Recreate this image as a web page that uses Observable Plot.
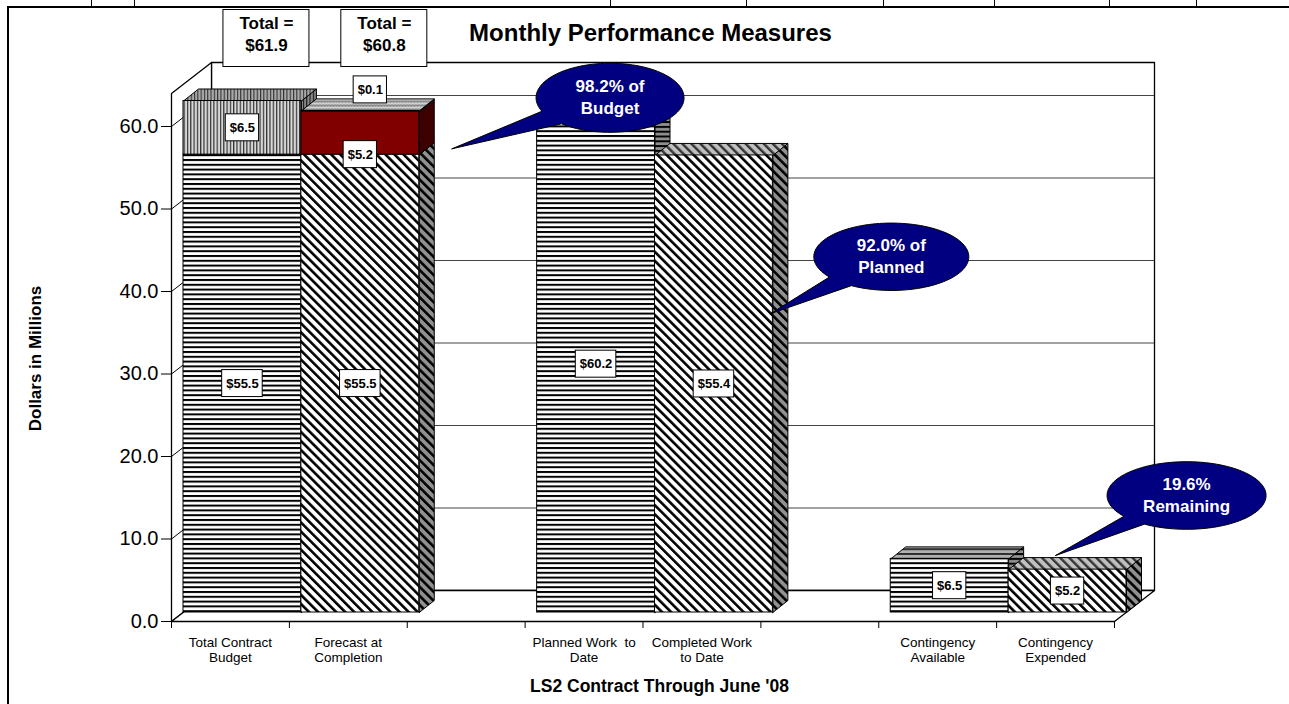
<!DOCTYPE html>
<html><head><meta charset="utf-8">
<script src="https://cdn.jsdelivr.net/npm/d3@7"></script>
<script src="https://cdn.jsdelivr.net/npm/@observablehq/plot@0.6"></script>
<style>
html,body{margin:0;padding:0;background:#fff;}
#wrap{position:relative;width:1289px;height:704px;overflow:hidden;}
#wrap svg{position:absolute;left:0;top:0;}
.deco{position:absolute;background:#000;z-index:2;}
</style></head><body>
<div id="wrap"></div>
<script>
// ---------- data ----------
const categories = ["Total Contract\nBudget", "Forecast at\nCompletion", "", "Planned Work\u00a0 to\nDate", "Completed Work\nto Date", "", "Contingency\nAvailable", "Contingency\nExpended"];
const segBar   = [0, 0, 1, 1, 1, 3, 4, 6, 7];
const segValue = [55.5, 6.5, 55.5, 5.2, 0.1, 60.2, 55.4, 6.5, 5.2];
const segKind  = ["h", "v", "d", "r", "z", "h", "d", "h", "d"];
const segLabel = ["$55.5", "$6.5", "$55.5", "$5.2", "$0.1", "$60.2", "$55.4", "$6.5", "$5.2"];
const segLabelAt = ["mid", "mid", "mid", "base", "above", "mid", "mid", "mid", "mid"];
const totalBar = [0, 1];
const totalValue = [61.9, 60.8];
const calloutText = ["98.2% of\nBudget", "92.0% of\nPlanned", "19.6%\nRemaining"];
const calloutTipX = [2.38, 5.08, 7.5];
const calloutTipY = [57.3, 37.3, 8.0];
const yTicks = [0, 10, 20, 30, 40, 50, 60];
const yMax = 64;
const title = "Monthly Performance Measures";
const xTitle = "LS2 Contract Through June '08";
const yTitle = "Dollars in Millions";

// ---------- layout ----------
const W = 1289, H = 704, mL = 171, mR = 175, mT = 93, mB = 83;
const nSlots = categories.length;
const kx = (W - mL - mR) / nSlots;      // px per category slot
const ky = (H - mT - mB) / yMax;        // px per value unit
const wdx = 40 / kx, wdy = 31 / ky;     // wall depth in data units
const bdx = 15 / kx, bdy = 12 / ky;     // bar depth in data units
const BX = 12, BY = -9;                 // bar plane offset (px)
const FONT = "'Liberation Sans', Arial, sans-serif";
const kinds = {
  h: {front: "url(#hF)", side: "url(#hS)", top: "url(#hT)"},
  d: {front: "url(#dF)", side: "url(#dS)", top: "url(#dT)"},
  v: {front: "url(#vF)", side: "url(#vS)", top: "url(#vT)"},
  r: {front: "#800000", side: "#3c0000", top: "#600000"},
  z: {front: "url(#zT)", side: "url(#zT)", top: "url(#zT)"}
};
const bubbleGeom = [
  {ox: 158, oy: -51, rx: 74, ry: 34.5, t0: 131, t1: 157},
  {ox: 121, oy: -57, rx: 77.5, ry: 33.7, t0: 121, t1: 143},
  {ox: 131, oy: -60, rx: 79.5, ry: 33.8, t0: 122, t1: 142}
];

// ---------- derived tables ----------
const cum = {};
const segs = segBar.map((b, i) => {
  const base = cum[b] || 0, top = base + segValue[i];
  cum[b] = top;
  return {bar: b, base, top, x1: b, x2: b + 1, kind: segKind[i], label: segLabel[i], at: segLabelAt[i]};
});
segs.forEach(s => { s.front = kinds[s.kind].front; });

const poly = [];
segs.forEach((s, i) => {
  const st = kinds[s.kind];
  [[s.x2, s.base], [s.x2 + bdx, s.base + bdy], [s.x2 + bdx, s.top + bdy], [s.x2, s.top], [s.x2, s.base]]
    .forEach(([x, y]) => poly.push({id: "s" + i, x, y, fill: st.side}));
  [[s.x1, s.top], [s.x2, s.top], [s.x2 + bdx, s.top + bdy], [s.x1 + bdx, s.top + bdy], [s.x1, s.top]]
    .forEach(([x, y]) => poly.push({id: "t" + i, x, y, fill: st.top}));
});

const walls = [];
[[wdx, wdy], [nSlots + wdx, wdy], [nSlots + wdx, yMax + wdy], [wdx, yMax + wdy], [wdx, wdy]].forEach(([x, y]) => walls.push({id: "back", x, y}));
[[0, 0], [wdx, wdy], [wdx, yMax + wdy], [0, yMax], [0, 0]].forEach(([x, y]) => walls.push({id: "left", x, y}));
[[0, 0], [nSlots, 0], [nSlots + wdx, wdy], [wdx, wdy], [0, 0]].forEach(([x, y]) => walls.push({id: "floor", x, y}));

const ctx = document.createElement("canvas").getContext("2d");
ctx.font = "bold 13px 'Liberation Sans'";
const labels = segs.map(s => {
  const l = {text: s.label, x: s.bar + 0.5, y: s.base + (s.top - s.base) / 2, ox: 0, oy: 0};
  if (s.at === "base") l.y = s.base;
  if (s.at === "above") { l.y = s.top; l.ox = 10; l.oy = -21; }
  l.hw = (ctx.measureText(s.label).width + 8) / 2;
  return l;
});
const totals = totalBar.map((b, i) => ({bar: b, value: totalValue[i]}));

const bubbles = [];
calloutText.forEach((t, i) => {
  const g = bubbleGeom[i], X = calloutTipX[i], Y = calloutTipY[i];
  const pt = (px, py) => ({id: "c" + i, x: X + px / kx, y: Y - py / ky});
  bubbles.push(pt(0, 0));
  const n = 120, a0 = g.t1, a1 = g.t0 + 360;
  for (let k = 0; k <= n; k++) {
    const r = (a0 + (a1 - a0) * k / n) * Math.PI / 180;
    bubbles.push(pt(g.ox + g.rx * Math.cos(r), g.oy + g.ry * Math.sin(r)));
  }
  bubbles.push(pt(0, 0));
});

// ---------- marks ----------
const marks = [
  Plot.line(walls, {x: "x", y: "y", z: "id", fill: "white", stroke: "#000", strokeWidth: 1.3}),
  Plot.ruleY(yTicks.filter(v => v > 0), {y: d => d + wdy, x1: () => wdx, x2: () => nSlots + wdx, stroke: "#444", strokeWidth: 1.1}),
  Plot.link(yTicks.filter(v => v > 0), {x1: () => 0, y1: d => d, x2: () => wdx, y2: d => d + wdy, stroke: "#000"}),
  Plot.line(poly, {x: "x", y: "y", z: "id", fill: "fill", stroke: "#000", strokeWidth: 1, dx: BX, dy: BY}),
  Plot.rect(segs, {x1: "x1", x2: "x2", y1: "base", y2: "top", fill: "front", stroke: "#000", strokeWidth: 1, dx: BX, dy: BY}),
  ...labels.map(l => Plot.rect([l], {x1: d => d.x, x2: d => d.x, y1: d => d.y, y2: d => d.y,
      insetLeft: -l.hw, insetRight: -l.hw, insetTop: -13.5, insetBottom: -13.5,
      dx: BX + l.ox, dy: BY + l.oy, fill: "white", stroke: "#000"})),
  ...labels.map(l => Plot.text([l], {x: d => d.x, y: d => d.y, text: d => d.text, dx: BX + l.ox, dy: BY + l.oy,
      fontSize: 13, fontWeight: "bold", fill: "#000"})),
  Plot.rect(totals, {x1: d => d.bar + 0.5, x2: d => d.bar + 0.5, y1: () => yMax, y2: () => yMax,
      insetLeft: -43, insetRight: -43, insetTop: -28.5, insetBottom: -28.5, dx: 36, dy: -55, fill: "white", stroke: "#000"}),
  Plot.text(totals, {x: d => d.bar + 0.5, y: () => yMax, text: d => "Total =\n$" + d.value.toFixed(1),
      dx: 36, dy: -60.5, fontSize: 17, fontWeight: "bold", lineHeight: 1.28, fill: "#000"}),
  Plot.line(bubbles, {x: "x", y: "y", z: "id", fill: "#000080", stroke: "#000", strokeWidth: 1}),
  ...calloutText.map((t, i) => Plot.text([i], {x: d => calloutTipX[d], y: d => calloutTipY[d], text: d => calloutText[d],
      dx: bubbleGeom[i].ox, dy: bubbleGeom[i].oy - 1.5, fill: "white", fontSize: 17, fontWeight: "bold", lineHeight: 1.26})),
  Plot.text(categories, {x: (d, i) => i + 0.5, y: () => 0, text: d => d, lineAnchor: "top", dy: 14, fontSize: 13.5, lineHeight: 1.16, fill: "#000"}),
  Plot.text([title], {text: d => d, frameAnchor: "top", textAnchor: "middle", lineAnchor: "middle", dx: 7.5, dy: -60, fontSize: 24, fontWeight: "bold", fill: "#000"}),
  Plot.text([xTitle], {text: d => d, frameAnchor: "bottom", textAnchor: "middle", lineAnchor: "middle", dx: 16.5, dy: 64.5, fontSize: 17.5, fontWeight: "bold", fill: "#000"}),
  Plot.text([yTitle], {text: d => d, frameAnchor: "left", textAnchor: "middle", lineAnchor: "middle", rotate: -90, dx: -136, dy: 1, fontSize: 17, fontWeight: "bold", fill: "#000"})
];

const chart = Plot.plot({
  width: W, height: H, marginLeft: mL, marginRight: mR, marginTop: mT, marginBottom: mB,
  style: {fontFamily: FONT, fontSize: "20px", color: "#000", background: "transparent", overflow: "visible"},
  x: {domain: [0, nSlots], ticks: d3.range(nSlots + 1), tickFormat: () => "", tickSize: 7, label: null},
  y: {domain: [0, yMax], ticks: yTicks, tickFormat: d => d.toFixed(1), tickSize: 10, tickPadding: 3, line: true, label: null},
  color: {type: "identity"},
  marks
});

const pat = (id, w, h, bg, inner, tr) =>
  `<pattern id="${id}" patternUnits="userSpaceOnUse" width="${w}" height="${h}"${tr ? ` patternTransform="${tr}"` : ""}><rect width="${w}" height="${h}" fill="${bg}"/>${inner}</pattern>`;
const defs =
  pat("hF", 10, 4.8, "#fff", `<rect width="10" height="2" fill="#000"/>`) +
  pat("hS", 10, 4.8, "#909090", `<rect width="10" height="2" fill="#000"/>`) +
  pat("hT", 10, 4.8, "#b0b0b0", `<rect width="10" height="1.8" fill="#222"/>`) +
  pat("dF", 6.4, 10, "#fff", `<rect width="2.6" height="10" fill="#000"/>`, "rotate(-45)") +
  pat("dS", 6.4, 10, "#909090", `<rect width="2.6" height="10" fill="#000"/>`, "rotate(-45)") +
  pat("dT", 6.4, 10, "#c0c0c0", `<rect width="2.4" height="10" fill="#333"/>`, "rotate(-45)") +
  pat("vF", 3.3, 10, "#d8d8d8", `<rect width="1.2" height="10" fill="#333"/>`) +
  pat("vS", 3.3, 10, "#8a8a8a", `<rect width="1.1" height="10" fill="#111"/>`) +
  pat("vT", 3.3, 10, "#aaaaaa", `<rect width="1.1" height="10" fill="#333"/>`) +
  pat("zT", 6, 4, "#d0d0d0", `<path d="M0,3L1.5,1L3,3L4.5,1L6,3" fill="none" stroke="#555" stroke-width="1"/>`);
d3.select(chart).insert("defs", ":first-child").html(defs);

const wrap = document.getElementById("wrap");
wrap.appendChild(chart);
// sheet frame decoration
const deco = (l, t, w, h) => { const d = document.createElement("div"); d.className = "deco";
  Object.assign(d.style, {left: l + "px", top: t + "px", width: w + "px", height: h + "px"}); wrap.appendChild(d); };
deco(7, 6, 1282, 2);
deco(7, 6, 2, 698);
[91, 134, 610, 746, 883, 994, 1109, 1196].forEach(x => deco(x, 0, 1, 7));
</script></body></html>
